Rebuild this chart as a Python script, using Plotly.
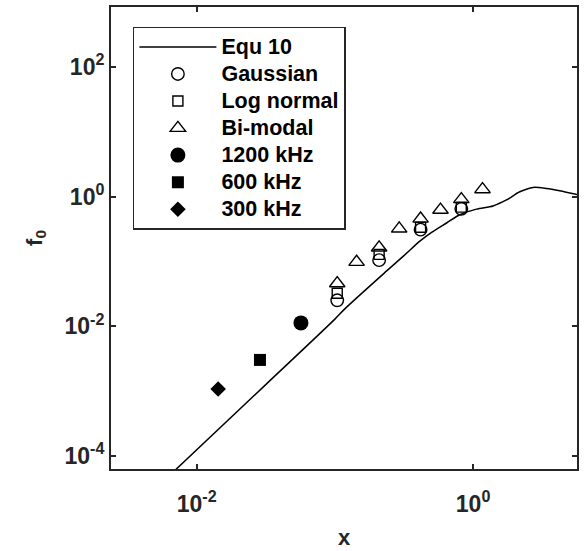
import plotly.graph_objects as go

# Equ 10 model curve (x, f0)
equ10_x = [0.0063, 0.0316, 0.100, 0.118, 0.237, 0.316, 0.412, 0.501, 0.643,
           0.802, 1.058, 1.395, 1.744, 2.177, 2.716, 3.396, 4.236, 5.75]
equ10_y = [4.9e-05, 1.26e-03, 0.0129, 0.0186, 0.0716, 0.123, 0.206, 0.282,
           0.393, 0.526, 0.643, 0.721, 0.891, 1.191, 1.392, 1.343, 1.236, 1.07]

# Simulated size distributions
gauss_x = [0.104, 0.209, 0.417, 0.822]
gauss_y = [0.0252, 0.105, 0.310, 0.649]

lognorm_x = [0.104, 0.209, 0.417, 0.822]
lognorm_y = [0.0324, 0.129, 0.337, 0.690]

bimodal_x = [0.104, 0.1436, 0.209, 0.292, 0.417, 0.581, 0.822, 1.17]
bimodal_y = [0.046, 0.0983, 0.164, 0.321, 0.457, 0.627, 0.912, 1.30]

# Measurements at three frequencies
f1200_x, f1200_y = [0.0568], [0.0113]
f600_x, f600_y = [0.0287], [0.00303]
f300_x, f300_y = [0.0143], [0.00108]

x_tickvals = [0.01, 1]
x_ticktext = ["10<sup>-2</sup>", "10<sup>0</sup>"]
y_tickvals = [1e-4, 1e-2, 1, 100]
y_ticktext = ["10<sup>-4</sup>", "10<sup>-2</sup>", "10<sup>0</sup>", "10<sup>2</sup>"]

FONT = "Liberation Sans, Arial, sans-serif"
AX = "#262626"


def label(text):
    # legend rows are spaced by the legend font size; the label itself is drawn larger
    return f'<span style="font-size:21.5px">{text}</span>'


fig = go.Figure()
fig.add_trace(go.Scatter(x=equ10_x, y=equ10_y, mode="lines", name=label("Equ 10"),
                         line=dict(color="black", width=1.5, shape="spline", smoothing=0.8)))
fig.add_trace(go.Scatter(x=gauss_x, y=gauss_y, mode="markers", name=label("Gaussian"),
                         marker=dict(symbol="circle-open", size=12.5, color="black",
                                     line=dict(width=1.4))))
fig.add_trace(go.Scatter(x=lognorm_x, y=lognorm_y, mode="markers", name=label("Log normal"),
                         marker=dict(symbol="square-open", size=10, color="black",
                                     line=dict(width=1.4))))
fig.add_trace(go.Scatter(x=bimodal_x, y=bimodal_y, mode="markers", name=label("Bi-modal"),
                         marker=dict(symbol="triangle-up-open", size=13.5, color="black",
                                     line=dict(width=1.4))))
fig.add_trace(go.Scatter(x=f1200_x, y=f1200_y, mode="markers", name=label("1200 kHz"),
                         marker=dict(symbol="circle", size=15, color="black")))
fig.add_trace(go.Scatter(x=f600_x, y=f600_y, mode="markers", name=label("600 kHz"),
                         marker=dict(symbol="square", size=12, color="black")))
fig.add_trace(go.Scatter(x=f300_x, y=f300_y, mode="markers", name=label("300 kHz"),
                         marker=dict(symbol="diamond", size=12, color="black")))

axis_common = dict(
    type="log", showgrid=False, zeroline=False,
    showline=True, linecolor=AX, linewidth=2, mirror="ticks",
    ticks="inside", ticklen=5, tickwidth=1.5, tickcolor=AX,
    tickfont=dict(family=FONT, size=23, color=AX, weight="bold"),
)

fig.update_layout(
    width=585, height=551,
    margin=dict(l=111, r=8, t=5, b=79),
    paper_bgcolor="white", plot_bgcolor="white",
    font=dict(family=FONT, color=AX),
    xaxis=dict(range=[-2.62, 0.752], tickvals=x_tickvals, ticktext=x_ticktext,
               ticklabelstandoff=13,
               title=dict(text="<b>x</b>", font=dict(family=FONT, size=22, color=AX),
                          standoff=14),
               **axis_common),
    yaxis=dict(range=[-4.2015, 2.927], tickvals=y_tickvals, ticktext=y_ticktext,
               title=dict(text="<b>f<sub>0</sub></b>", font=dict(family=FONT, size=22, color=AX),
                          standoff=16),
               **axis_common),
    legend=dict(x=0.047, y=0.957, xanchor="left", yanchor="top",
                bgcolor="white", bordercolor=AX, borderwidth=1.5,
                font=dict(family=FONT, size=18.5, color="black", weight="bold"),
                itemwidth=77, tracegroupgap=0),
    showlegend=True,
)

fig.write_html("out.html")
